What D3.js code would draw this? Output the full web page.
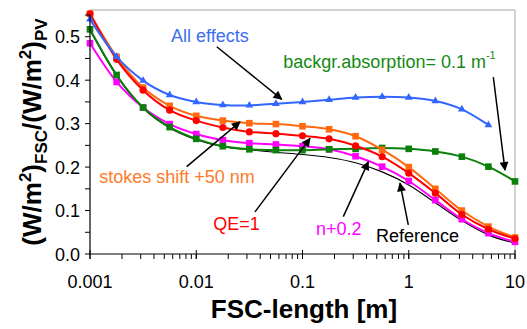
<!DOCTYPE html>
<html>
<head>
<meta charset="utf-8">
<script src="https://cdn.jsdelivr.net/npm/d3@7"></script>
<style>
  body { margin: 0; background: #fff; }
  svg { display: block; font-family: Arial, "Liberation Sans", sans-serif; }
</style>
</head>
<body>
<div id="chart"></div>
<script>
// FSC length [m], 4 points per decade
var lengths = [0.001, 0.00178, 0.00316, 0.00562, 0.01, 0.0178, 0.0316, 0.0562, 0.1, 0.178, 0.316, 0.562, 1, 1.78, 3.16, 5.62, 10];

var reference   = [0.515, 0.410, 0.335, 0.290, 0.263, 0.247, 0.240, 0.234, 0.229, 0.222, 0.210, 0.189, 0.159, 0.118, 0.077, 0.044, 0.025];
var nPlus02     = [0.485, 0.396, 0.337, 0.299, 0.276, 0.262, 0.255, 0.252, 0.248, 0.241, 0.225, 0.201, 0.168, 0.124, 0.080, 0.048, 0.028];
var absorption  = [0.517, 0.412, 0.337, 0.292, 0.265, 0.248, 0.241, 0.239, 0.239, 0.241, 0.242, 0.244, 0.242, 0.236, 0.224, 0.201, 0.167];
var stokesShift = [0.553, 0.454, 0.383, 0.341, 0.318, 0.307, 0.301, 0.299, 0.294, 0.287, 0.271, 0.240, 0.200, 0.150, 0.100, 0.063, 0.038];
var qeOne       = [0.553, 0.448, 0.377, 0.331, 0.307, 0.291, 0.281, 0.277, 0.272, 0.265, 0.249, 0.224, 0.186, 0.140, 0.091, 0.057, 0.035];
var allEffects  = [0.540, 0.454, 0.399, 0.366, 0.350, 0.343, 0.342, 0.346, 0.350, 0.355, 0.360, 0.362, 0.360, 0.352, 0.333, 0.297];

var xTicks = [0.001, 0.01, 0.1, 1, 10];
var xTickLabels = ["0.001", "0.01", "0.1", "1", "10"];
var yTicks = [0, 0.1, 0.2, 0.3, 0.4, 0.5];

var width = 527, height = 329;
var margin = {left: 90, right: 12, top: 15, bottom: 75};

var svg = d3.select("#chart").append("svg")
    .attr("width", width)
    .attr("height", height);

var x = d3.scaleLog()
    .domain([0.001, 10])
    .range([margin.left, width - margin.right]);

var y = d3.scaleLinear()
    .domain([0, 0.55])
    .range([height - margin.bottom, margin.top]);

// plot area frame (top and right, light grey)
svg.append("path")
    .attr("d", "M" + x(0.001) + "," + (y(0.55) - 5) + "H" + x(10) + "V" + y(0))
    .attr("fill", "none")
    .attr("stroke", "#a6a6a6")
    .attr("stroke-width", 1);

// series, drawn bottom to top
var series = [
  {name: "Reference", values: reference, color: "#000", width: 1.1, marker: "none"},
  {name: "n+0.2", values: nPlus02, color: "#ff00ff", width: 2, marker: "square"},
  {name: "absorption", values: absorption, color: "#0a800a", width: 2, marker: "square"},
  {name: "stokes", values: stokesShift, color: "#ff6a10", width: 2, marker: "square"},
  {name: "QE=1", values: qeOne, color: "#ff0000", width: 2, marker: "circle"},
  {name: "All effects", values: allEffects, color: "#3366ff", width: 2, marker: "triangle"}
];

var line = d3.line()
    .x(function(d) { return x(d[0]); })
    .y(function(d) { return y(d[1]); })
    .curve(d3.curveCardinal.tension(0));

var symbols = {
  square: d3.symbol().type(d3.symbolSquare).size(44),
  circle: d3.symbol().type(d3.symbolCircle).size(40),
  triangle: d3.symbol().type(d3.symbolTriangle).size(26)
};

series.forEach(function(s) {
  var pts = s.values.map(function(v, i) { return [lengths[i], v]; });
  var g = svg.append("g");
  g.append("path")
      .datum(pts)
      .attr("d", line)
      .attr("fill", "none")
      .attr("stroke", s.color)
      .attr("stroke-width", s.width);
  if (s.marker != "none") {
    g.selectAll("path.pt")
        .data(pts)
        .enter().append("path")
        .attr("class", "pt")
        .attr("d", symbols[s.marker])
        .attr("transform", function(d) { return "translate(" + x(d[0]) + "," + y(d[1]) + ")"; })
        .attr("fill", s.color);
  }
});

// axes
var yAxis = svg.append("g");
yAxis.append("line")
    .attr("x1", x(0.001)).attr("x2", x(0.001))
    .attr("y1", y(0)).attr("y2", y(0.55))
    .attr("stroke", "#000").attr("stroke-width", 1.2);
var yMinor = d3.range(0, 0.551, 0.05);
yAxis.selectAll("line.minor")
    .data(yMinor)
    .enter().append("line")
    .attr("x1", x(0.001) - 5).attr("x2", x(0.001))
    .attr("y1", function(d) { return y(d); })
    .attr("y2", function(d) { return y(d); })
    .attr("stroke", "#000");
yAxis.selectAll("text")
    .data(yTicks)
    .enter().append("text")
    .attr("x", x(0.001) - 10)
    .attr("y", function(d) { return y(d) + 6.5; })
    .attr("text-anchor", "end")
    .attr("font-size", 18)
    .text(function(d) { return d3.format(".1f")(d); });

var xAxis = svg.append("g");
xAxis.append("line")
    .attr("x1", x(0.001)).attr("x2", x(10))
    .attr("y1", y(0)).attr("y2", y(0))
    .attr("stroke", "#000").attr("stroke-width", 1.2);
var xMinor = x.ticks();
xAxis.selectAll("line.minor")
    .data(xMinor)
    .enter().append("line")
    .attr("x1", function(d) { return x(d); })
    .attr("x2", function(d) { return x(d); })
    .attr("y1", y(0))
    .attr("y2", y(0) + 5)
    .attr("stroke", "#000");
xAxis.selectAll("line.major")
    .data(xTicks)
    .enter().append("line")
    .attr("x1", function(d) { return x(d); })
    .attr("x2", function(d) { return x(d); })
    .attr("y1", y(0) - 4)
    .attr("y2", y(0) + 5)
    .attr("stroke", "#000");
xAxis.selectAll("text")
    .data(xTicks)
    .enter().append("text")
    .attr("x", function(d) { return x(d); })
    .attr("y", y(0) + 34)
    .attr("text-anchor", "middle")
    .attr("font-size", 18)
    .text(function(d, i) { return xTickLabels[i]; });

// axis titles
svg.append("text")
    .attr("x", 304)
    .attr("y", 318)
    .attr("text-anchor", "middle")
    .attr("font-size", 26)
    .attr("font-weight", "bold")
    .text("FSC-length [m]");

var yt = svg.append("text")
    .attr("transform", "translate(41,132) rotate(-90)")
    .attr("text-anchor", "middle")
    .attr("font-size", 26)
    .attr("font-weight", "bold");
yt.append("tspan").text("(W/m");
yt.append("tspan").attr("font-size", 17).attr("dy", -10).text("2");
yt.append("tspan").attr("dy", 10).text(")");
yt.append("tspan").attr("font-size", 17).attr("dy", 6).text("FSC");
yt.append("tspan").attr("dy", -6).text("/(W/m");
yt.append("tspan").attr("font-size", 17).attr("dy", -10).text("2");
yt.append("tspan").attr("dy", 10).text(")");
yt.append("tspan").attr("font-size", 17).attr("dy", 6).text("PV");

// annotations: label anchor and arrow (tail -> head) in data coordinates
svg.append("defs").append("marker")
    .attr("id", "arrow")
    .attr("viewBox", "0 0 10 10")
    .attr("refX", 9).attr("refY", 5)
    .attr("markerWidth", 7).attr("markerHeight", 6)
    .attr("orient", "auto")
    .append("path")
    .attr("d", "M0,0L10,5L0,10z")
    .attr("fill", "#000");

var notes = [
  {text: "All effects", color: "#3d6df2", at: [0.00579, 0.489], tail: [0.0156, 0.477], head: [0.0637, 0.356]},
  {text: "backgr.absorption= 0.1 m", sup: "-1", color: "#138a13", at: [0.066, 0.427], tail: [6.25, 0.407], head: [8.05, 0.193]},
  {text: "stokes shift +50 nm", color: "#ff7a28", at: [0.001223, 0.163], tail: [0.00813, 0.201], head: [0.0258, 0.304]},
  {text: "QE=1", color: "#ff0000", at: [0.01447, 0.055], tail: [0.0357, 0.097], head: [0.1177, 0.266]},
  {text: "n+0.2", color: "#ff00ff", at: [0.134, 0.044], tail: [0.2421, 0.086], head: [0.4161, 0.212]},
  {text: "Reference", color: "#000", at: [0.4918, 0.028], tail: [0.99, 0.067], head: [0.827, 0.163]}
];

notes.forEach(function(n) {
  svg.append("line")
      .attr("x1", x(n.tail[0])).attr("y1", y(n.tail[1]))
      .attr("x2", x(n.head[0])).attr("y2", y(n.head[1]))
      .attr("stroke", "#000")
      .attr("stroke-width", 1.5)
      .attr("marker-end", "url(#arrow)");
  var t = svg.append("text")
      .attr("x", x(n.at[0]))
      .attr("y", y(n.at[1]))
      .attr("font-size", 18)
      .attr("fill", n.color)
      .text(n.text);
  if (n.sup) {
    t.append("tspan").attr("font-size", 11).attr("dy", -9).text(n.sup);
  }
});
</script>
</body>
</html>
